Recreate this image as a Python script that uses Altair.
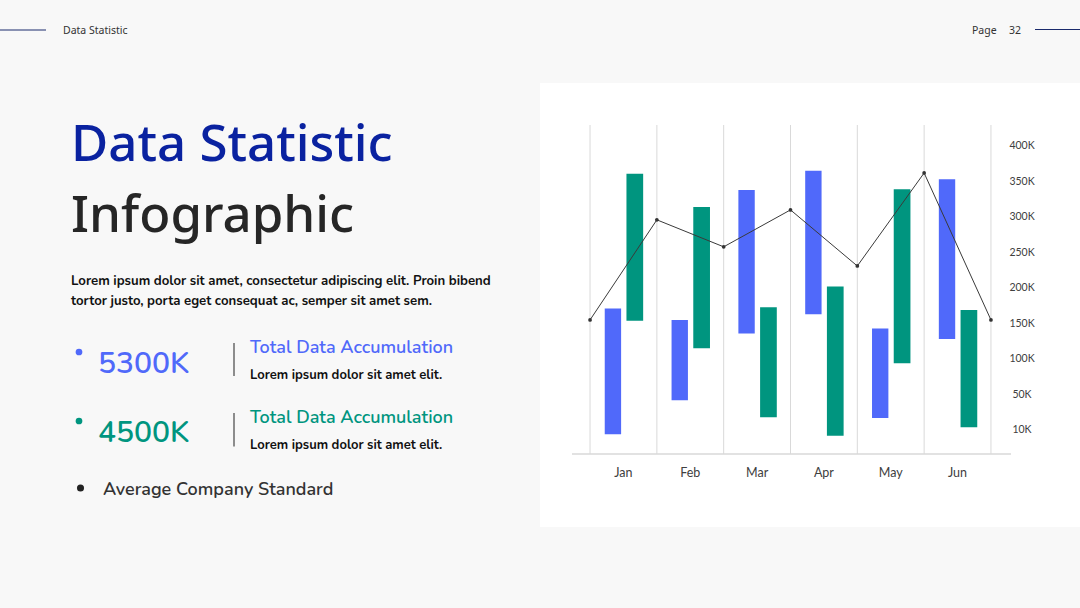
import altair as alt
import pandas as pd

# ---------------- data ----------------
months = ["Jan", "Feb", "Mar", "Apr", "May", "Jun"]
blue_low = [-6000, 42000, 136000, 163000, 17000, 128000]
blue_high = [171000, 155000, 338000, 365000, 143000, 353000]
green_low = [154000, 115000, 18000, -8000, 94000, 4000]
green_high = [361000, 314000, 173000, 202000, 339000, 169000]
line_values = [155000, 296000, 258000, 310000, 231000, 362000, 155000]
y_tick_values = [0, 50000, 100000, 150000, 200000, 250000, 300000, 350000, 400000]
y_tick_labels = ["10K", "50K", "100K", "150K", "200K", "250K", "300K", "350K", "400K"]

# texts
header_left = "Data Statistic"
page_label = "Page"
page_num = "32"
title_1 = "Data Statistic"
title_2 = "Infographic"
body_1 = "Lorem ipsum dolor sit amet, consectetur adipiscing elit. Proin bibend"
body_2 = "tortor justo, porta eget consequat ac, semper sit amet sem."
stat_1 = "5300K"
stat_2 = "4500K"
stat_title = "Total Data Accumulation"
stat_desc = "Lorem ipsum dolor sit amet elit."
avg_label = "Average Company Standard"

BLUE = "#5069fa"
TEAL = "#00957f"
NAVY = "#0a22a0"
DARK = "#262626"
GRID = "#d9d9d9"

# plot-area origin on the page
X0, Y0 = 572, 125
W, H = 439, 329

TITLE_FONT = "Noto Sans"
BODY_FONT = "Nunito, Lato, sans-serif"

# ---------------- tables ----------------
bars = pd.DataFrame({
    "month": months * 2,
    "i": list(range(6)) * 2,
    "series": ["blue"] * 6 + ["green"] * 6,
    "low": blue_low + green_low,
    "high": blue_high + green_high,
})
line_df = pd.DataFrame({"b": list(range(7)), "v": line_values})
grid_df = pd.DataFrame({"b": list(range(7))})
month_df = pd.DataFrame({"month": months, "i": list(range(6))})
tick_df = pd.DataFrame({"v": y_tick_values, "label": y_tick_labels})
one = pd.DataFrame({"a": [0]})

xscale = alt.Scale(domain=[-0.27, 6.3], nice=False, zero=False)
yscale = alt.Scale(domain=[-33800, 429580], nice=False, zero=False)


def txt(s, x, y, size, color, weight="normal", font=BODY_FONT, align="left", baseline="alphabetic"):
    return alt.Chart(one).mark_text(
        text=s, align=align, baseline=baseline, fontSize=size, color=color,
        fontWeight=weight, font=font,
    ).encode(x=alt.value(x - X0), y=alt.value(y - Y0))


def hrule(x1, x2, y, color, width=1):
    return alt.Chart(one).mark_rule(color=color, strokeWidth=width).encode(
        x=alt.value(x1 - X0), x2=alt.value(x2 - X0), y=alt.value(y - Y0))


def vrule(x, y1, y2, color, width=1):
    return alt.Chart(one).mark_rule(color=color, strokeWidth=width).encode(
        x=alt.value(x - X0), y=alt.value(y1 - Y0), y2=alt.value(y2 - Y0))


def dot(x, y, size, color):
    return alt.Chart(one).mark_circle(size=size, color=color, opacity=1).encode(
        x=alt.value(x - X0), y=alt.value(y - Y0))


panel = alt.Chart(one).mark_rect(color="white").encode(
    x=alt.value(540 - X0), x2=alt.value(1080 - X0),
    y=alt.value(83 - Y0), y2=alt.value(527 - Y0))

grid = alt.Chart(grid_df).mark_rule(color=GRID, strokeWidth=1).encode(
    x=alt.X("b:Q", scale=xscale, axis=None),
    y=alt.value(0), y2=alt.value(H))

baseline = alt.Chart(one).mark_rule(color=GRID, strokeWidth=1.5).encode(
    x=alt.value(0), x2=alt.value(W), y=alt.value(H))

bar_layer = alt.Chart(bars).transform_calculate(
    x1="datum.i + (datum.series == 'blue' ? 0.22 : 0.545)",
    x2="datum.i + (datum.series == 'blue' ? 0.465 : 0.795)",
).mark_rect().encode(
    x=alt.X("x1:Q", scale=xscale, axis=None),
    x2="x2:Q",
    y=alt.Y("low:Q", scale=yscale, axis=None),
    y2="high:Q",
    color=alt.Color("series:N", scale=alt.Scale(domain=["blue", "green"], range=[BLUE, TEAL]), legend=None),
)

line_layer = alt.Chart(line_df).mark_line(color="#3a3a3a", strokeWidth=1).encode(
    x=alt.X("b:Q", scale=xscale, axis=None),
    y=alt.Y("v:Q", scale=yscale, axis=None),
)
point_layer = alt.Chart(line_df).mark_circle(color="#333333", size=14, opacity=1).encode(
    x=alt.X("b:Q", scale=xscale, axis=None),
    y=alt.Y("v:Q", scale=yscale, axis=None),
)

# right-hand value labels (drawn through the y scale)
ytick_labels = alt.Chart(tick_df).mark_text(
    fontSize=10.5, color="#404040", font="Lato", align="center", baseline="middle",
).encode(
    x=alt.value(1022 - X0),
    y=alt.Y("v:Q", scale=yscale, axis=None),
    text="label:N",
)

month_labels = alt.Chart(month_df).transform_calculate(c="datum.i + 0.5").mark_text(
    fontSize=12.5, color="#404040", font="Lato", baseline="middle",
).encode(
    x=alt.X("c:Q", scale=xscale, axis=None),
    y=alt.value(472.5 - Y0),
    text="month:N",
)

layers = [
    panel,
    # header
    hrule(0, 46, 30, "#1a2a6c"),
    txt(header_left, 63, 33.5, 10.5, "#333333", font=TITLE_FONT),
    txt(page_label, 972, 33.5, 10.5, "#333333", font=TITLE_FONT),
    txt(page_num, 1009, 33.5, 10.5, "#333333", font=TITLE_FONT),
    hrule(1035, 1080, 29.5, "#1a2a6c"),
    # titles
    txt(title_1, 71, 161, 51, NAVY, weight=500, font=TITLE_FONT),
    txt(title_2, 71, 232, 51, DARK, weight=500, font=TITLE_FONT),
    txt(body_1, 71, 285, 13.2, "#111111", weight="bold"),
    txt(body_2, 71, 305, 13.2, "#111111", weight="bold"),
    # stats
    dot(79, 352, 45, BLUE),
    txt(stat_1, 98, 372.5, 30, BLUE, weight=600),
    vrule(234, 343, 376, "#222222"),
    txt(stat_title, 250, 352.5, 18, BLUE, weight=600),
    txt(stat_desc, 250, 379, 13, "#111111", weight="bold"),
    dot(79, 421, 45, TEAL),
    txt(stat_2, 98, 442, 30, TEAL, weight=600),
    vrule(234, 413, 446.5, "#222222"),
    txt(stat_title, 250, 422.5, 18, TEAL, weight=600),
    txt(stat_desc, 250, 449, 13, "#111111", weight="bold"),
    dot(80.5, 488, 50, "#222222"),
    txt(avg_label, 103, 494.5, 18, "#333333", weight=600),
    # chart
    grid, baseline, bar_layer, line_layer, point_layer, ytick_labels, month_labels,
]

chart = alt.layer(*layers).properties(
    width=W, height=H,
    autosize=alt.AutoSizeParams(type="none"),
    padding={"left": X0, "top": Y0, "right": 1080 - X0 - W, "bottom": 608 - Y0 - H},
    background="#f8f8f8",
).configure_view(stroke="transparent")

chart.save("out.html", embed_options={"renderer": "svg", "actions": False})
